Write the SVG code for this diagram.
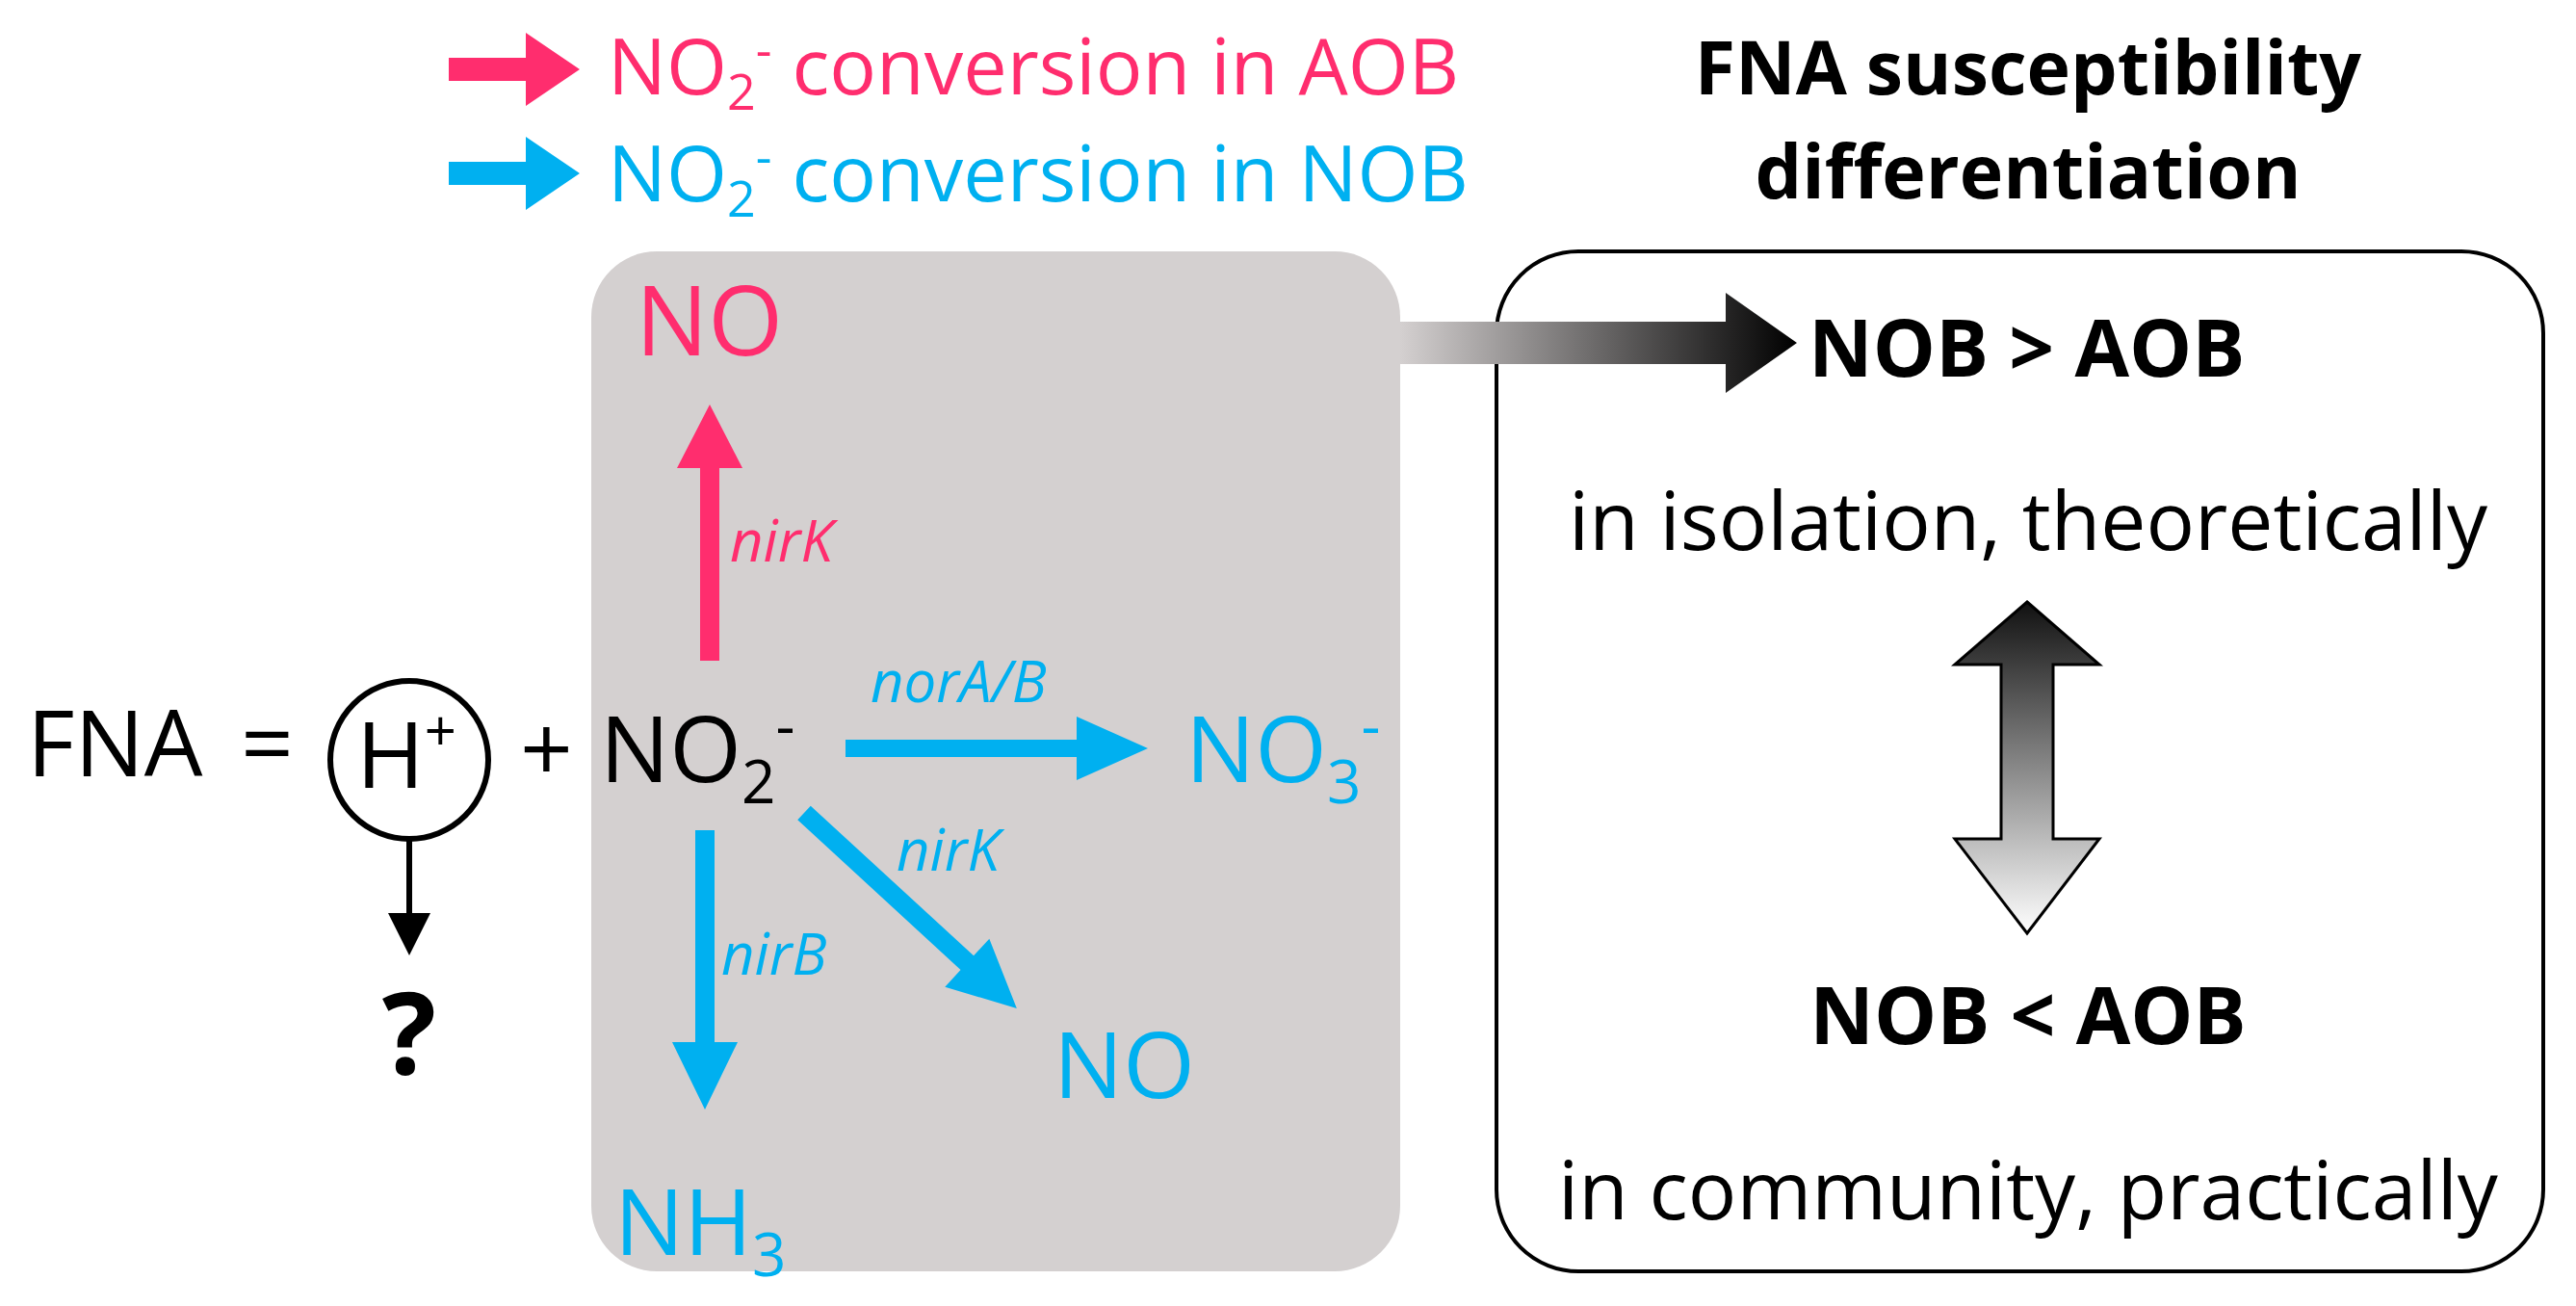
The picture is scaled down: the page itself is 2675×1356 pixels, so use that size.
<svg xmlns="http://www.w3.org/2000/svg" width="2675" height="1356" viewBox="0 0 2675 1356">
<style>
text{font-family:"Open Sans","Noto Sans",sans-serif}
.p{fill:#ff2d6e}.b{fill:#00b0f0}.k{fill:#000}
.bd{font-weight:bold}.it{font-style:italic}
</style>
<defs>
<linearGradient id="g1" x1="0" x2="1" y1="0" y2="0"><stop offset="0" stop-color="#d4d0d0"/><stop offset="1" stop-color="#000"/></linearGradient>
<linearGradient id="g2" x1="0" x2="0" y1="0" y2="1"><stop offset="0" stop-color="#111"/><stop offset="1" stop-color="#fff"/></linearGradient>
</defs>
<rect width="2675" height="1356" fill="#fff"/>
<g id="legend">
<path d="M466 60h80v-26l56 38-56 38v-26h-80z" class="p"/>
<text x="631" y="98" font-size="81" class="p">NO<tspan font-size="52" dy="16">2</tspan><tspan font-size="52" dy="-44">-</tspan><tspan dy="28"> conversion in AOB</tspan></text>
<path d="M466 168h80v-26l56 38-56 38v-26h-80z" class="b"/>
<text x="631" y="209" font-size="81" class="b">NO<tspan font-size="52" dy="16">2</tspan><tspan font-size="52" dy="-44">-</tspan><tspan dy="28"> conversion in NOB</tspan></text>
</g>
<g id="title"><text x="2106" y="98" font-size="77" text-anchor="middle" class="bd">FNA susceptibility</text>
<text x="2106" y="206" font-size="77" text-anchor="middle" class="bd">differentiation</text></g>
<g id="pathways"><rect x="614" y="261" width="840" height="1059" rx="68" fill="#d4d0d0"/></g>
<g id="susceptibility"><rect x="1554" y="261" width="1087" height="1059" rx="85" fill="none" stroke="#000" stroke-width="4"/>
<text x="1878" y="391" font-size="82" class="bd">NOB &gt; AOB</text>
<text x="2106" y="571" font-size="84" text-anchor="middle">in isolation, theoretically</text>
<text x="2106" y="1084" font-size="82" text-anchor="middle" class="bd">NOB &lt; AOB</text>
<text x="2106" y="1266" font-size="84" text-anchor="middle">in community, practically</text></g>
<g id="fna">
<text x="28" y="806" font-size="96">FNA</text>
<text x="250" y="806" font-size="96">=</text>
<circle cx="425" cy="789" r="82" fill="none" stroke="#000" stroke-width="6"/>
<text x="422" y="818" font-size="96" text-anchor="middle">H<tspan font-size="58" dy="-38">+</tspan></text>
<text x="540" y="812" font-size="96">+</text>
<text x="623" y="812" font-size="96">NO<tspan font-size="62" dy="22">2</tspan><tspan font-size="62" dy="-58">-</tspan></text>
<text x="425" y="1115" font-size="118" text-anchor="middle" class="bd">?</text>
</g>
<g id="products">
<text x="660" y="369" font-size="100" class="p">NO</text>
<text x="1231" y="812" font-size="96" class="b">NO<tspan font-size="62" dy="22">3</tspan><tspan font-size="62" dy="-58">-</tspan></text>
<text x="1094" y="1140" font-size="96" class="b">NO</text>
<text x="638" y="1303" font-size="96" class="b">NH<tspan font-size="62" dy="22">3</tspan></text>
</g>
<g id="connectors">
<path d="M1454 334h338v-30l74 52-74 52v-30h-338z" fill="url(#g1)"/>
<path d="M2105 625l75 65h-48v181h48l-75 98-75-98h48v-181h-48z" fill="url(#g2)" stroke="#000" stroke-width="3"/>
<line x1="425" y1="871" x2="425" y2="950" stroke="#000" stroke-width="6"/><path d="M403 948h44l-22 44z"/>
<path d="M727 686v-200h-24l34-66 34 66h-24v200z" class="p"/>
<path d="M878 768h240v-24l74 33-74 33v-24h-240z" class="b"/>
<path d="M722 862h20v220h24l-34 70-34-70h24z" class="b"/>
<path d="M0 -10h230v-24l70 34-70 34v-24h-230z" class="b" transform="translate(835 844) rotate(42.6)"/>
<text x="758" y="583" font-size="60" class="p it">nirK</text>
<text x="904" y="729" font-size="60" class="b it">norA/B</text>
<text x="931" y="904" font-size="60" class="b it">nirK</text>
<text x="749" y="1012" font-size="60" class="b it">nirB</text>
</g>
</svg>
